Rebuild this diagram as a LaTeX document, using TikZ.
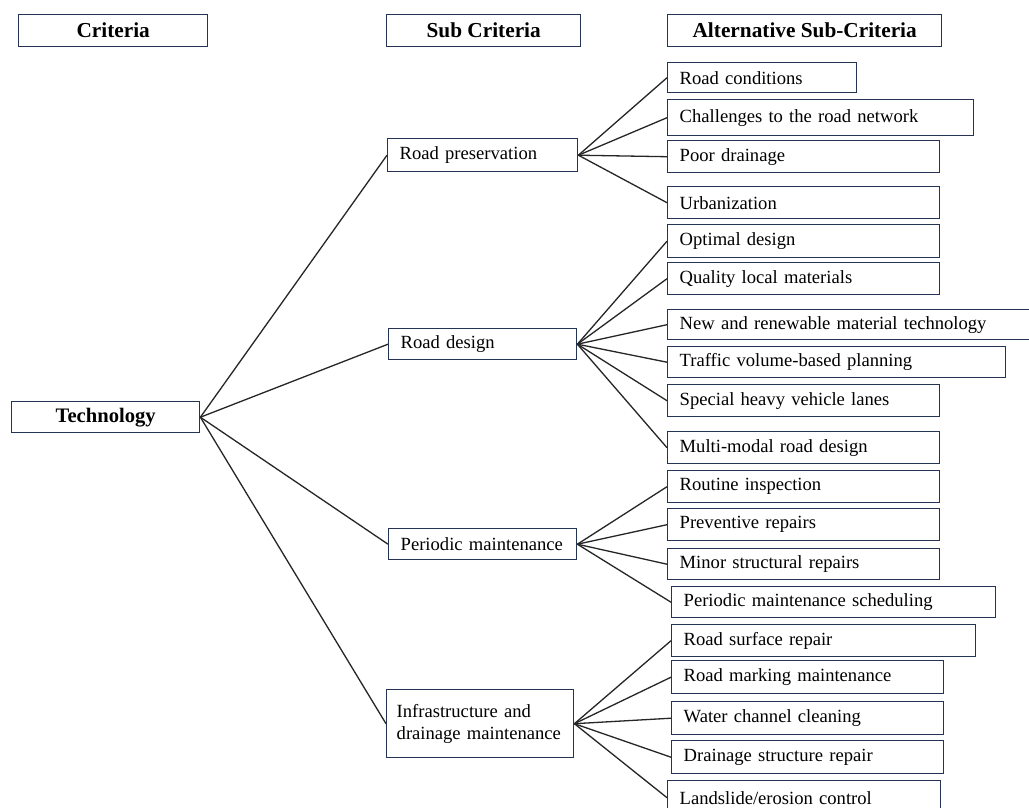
\documentclass[tikz,border=0pt]{standalone}
\usepackage{fontspec}
\setmainfont{Liberation Serif}
\newcommand\nfont{\fontsize{18.6}{22}\selectfont}
\newcommand\hfont{\fontsize{21.3}{24}\selectfont\bfseries}
\newcommand\tfont{\fontsize{20.6}{24}\selectfont\bfseries}
\definecolor{bcol}{RGB}{38,52,84}
\begin{document}
\begin{tikzpicture}[x=1pt,y=-1pt,
  box/.style={draw=bcol, line width=1.4pt, anchor=north west, inner xsep=12pt, inner ysep=0pt, align=left, font=\nfont},
  head/.style={draw=bcol, line width=1.4pt, anchor=north west, inner sep=0pt, align=center, font=\hfont, minimum height=32pt},
  conn/.style={draw=black!85, line width=1.3pt}]
\useasboundingbox (0,0) rectangle (1029,807);
\fill[white] (0,0) rectangle (1029,807);
% headers
\node[head, minimum width=189pt] (h1) at (18,14) {Criteria};
\node[head, minimum width=194pt] (h2) at (386,14) {Sub Criteria};
\node[head, minimum width=274pt] (h3) at (667,14) {Alternative Sub-Criteria};
% criteria
\node[box, font=\tfont, align=center, inner xsep=0pt, minimum width=188pt, minimum height=31pt] (tech) at (11,401) {Technology};
% sub criteria
\node[box, text width=166pt, minimum height=33pt] (rp) at (387,138) {Road preservation};
\node[box, text width=164pt, minimum height=31pt] (rd) at (388,328) {Road design};
\node[box, text width=164pt, minimum height=31pt] (pm) at (388,528) {Periodic maintenance};
\node[box, inner xsep=10pt, text width=167pt, minimum height=68pt] (idm) at (386,689) {Infrastructure and\\drainage maintenance};
% alternatives
\node[box, text width=165pt, minimum height=30pt] (a1) at (667,62) {Road conditions};
\node[box, text width=282pt, minimum height=36pt] (a2) at (667,99) {Challenges to the road network};
\node[box, text width=248pt, minimum height=32pt] (a3) at (667,140) {Poor drainage};
\node[box, text width=248pt, minimum height=32pt] (a4) at (667,186) {Urbanization};
\node[box, text width=248pt, minimum height=33pt] (a5) at (667,224) {Optimal design};
\node[box, text width=248pt, minimum height=32pt] (a6) at (667,262) {Quality local materials};
\node[box, text width=344pt, minimum height=30pt] (a7) at (667,309) {New and renewable material technology};
\node[box, text width=314pt, minimum height=31pt] (a8) at (667,346) {Traffic volume-based planning};
\node[box, text width=248pt, minimum height=32pt] (a9) at (667,384) {Special heavy vehicle lanes};
\node[box, text width=248pt, minimum height=32pt] (a10) at (667,431) {Multi-modal road design};
\node[box, text width=248pt, minimum height=32pt] (a11) at (667,470) {Routine inspection};
\node[box, text width=248pt, minimum height=32pt] (a12) at (667,508) {Preventive repairs};
\node[box, text width=248pt, minimum height=31pt] (a13) at (667,548) {Minor structural repairs};
\node[box, text width=300pt, minimum height=31pt] (a14) at (671,586) {Periodic maintenance scheduling};
\node[box, text width=280pt, minimum height=32pt] (a15) at (671,624) {Road surface repair};
\node[box, text width=248pt, minimum height=33pt] (a16) at (671,660) {Road marking maintenance};
\node[box, text width=248pt, minimum height=33pt] (a17) at (671,701) {Water channel cleaning};
\node[box, text width=248pt, minimum height=33pt] (a18) at (671,740) {Drainage structure repair};
\node[box, text width=249pt, minimum height=34pt] (a19) at (667,780) {Landslide/erosion control};
% connectors
\foreach \s in {rp,rd,pm,idm} \draw[conn] (tech.east) -- (\s.west);
\foreach \a in {a1,a2,a3,a4} \draw[conn] (rp.east) -- (\a.west);
\foreach \a in {a5,a6,a7,a8,a9,a10} \draw[conn] (rd.east) -- (\a.west);
\foreach \a in {a11,a12,a13,a14} \draw[conn] (pm.east) -- (\a.west);
\foreach \a in {a15,a16,a17,a18,a19} \draw[conn] (idm.east) -- (\a.west);
\end{tikzpicture}
\end{document}
